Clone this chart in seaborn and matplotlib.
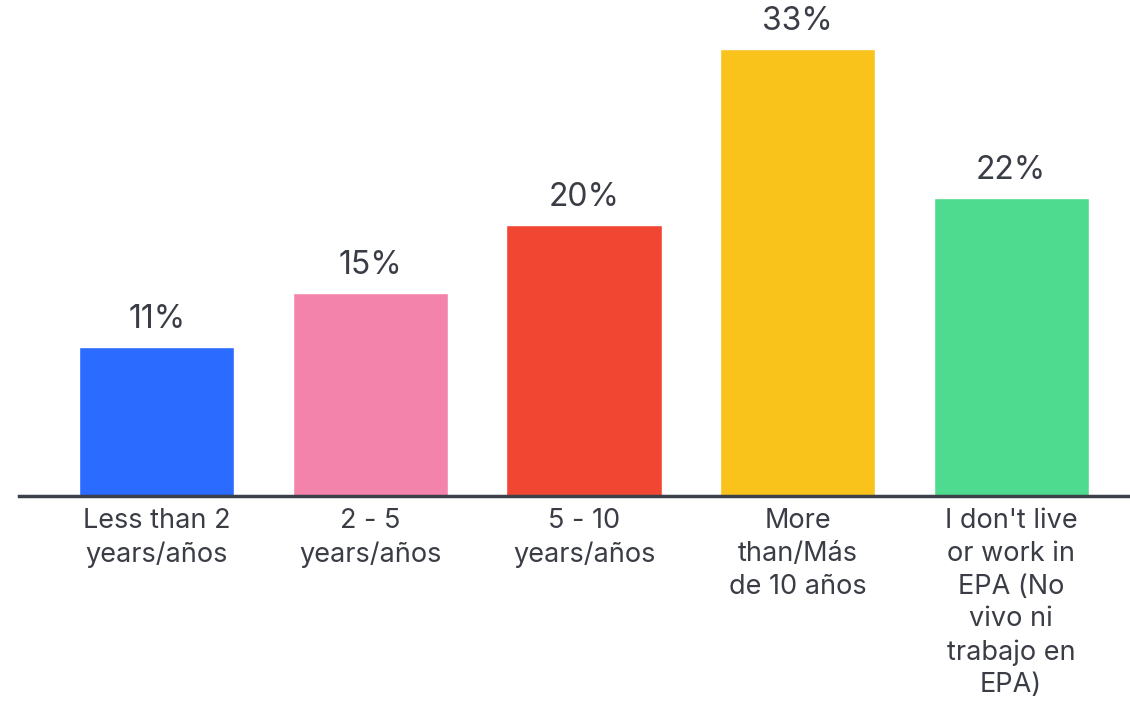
import matplotlib
matplotlib.use("Agg")
import matplotlib.pyplot as plt
import seaborn as sns
import pandas as pd

categories = ["Less than 2\nyears/años", "2 - 5\nyears/años", "5 - 10\nyears/años",
              "More\nthan/Más\nde 10 años",
              "I don't live\nor work in\nEPA (No\nvivo ni\ntrabajo en\nEPA)"]
values = [11, 15, 20, 33, 22]
labels = ["11%", "15%", "20%", "33%", "22%"]
colors = ["#2b6bff", "#f483ab", "#f04632", "#f9c31c", "#4fdb8f"]

sns.set_theme(style="white")
plt.rcParams['font.family'] = ['Inter', 'DejaVu Sans']

df = pd.DataFrame({"cat": categories, "val": values})

fig = plt.figure(figsize=(11.3, 7.04), dpi=100)
ax = fig.add_axes([19/1130, 208/704, (1130-19)/1130, 496/704])
sns.barplot(data=df, x="cat", y="val", hue="cat", palette=colors, legend=False,
            width=0.726, ax=ax, saturation=1)

text_color = "#3a3d45"
for i, (v, lab) in enumerate(zip(values, labels)):
    ax.text(i, v + 0.9, lab, ha="center", va="bottom", fontsize=23, color=text_color)

ax.set_xlim(-0.646, 4.557)
ax.set_ylim(0, 496/13.55)
ax.set_xlabel("")
ax.set_ylabel("")
ax.set_yticks([])
for s in ["top", "right", "left"]:
    ax.spines[s].set_visible(False)
ax.spines["bottom"].set_color("#3c4048")
ax.spines["bottom"].set_linewidth(2.5)
ax.tick_params(axis="x", length=0, pad=9, labelsize=19.5, labelcolor=text_color)
for t in ax.get_xticklabels():
    t.set_linespacing(1.33)
    t.set_verticalalignment("top")

fig.savefig("out.png", dpi=100, facecolor="white")
